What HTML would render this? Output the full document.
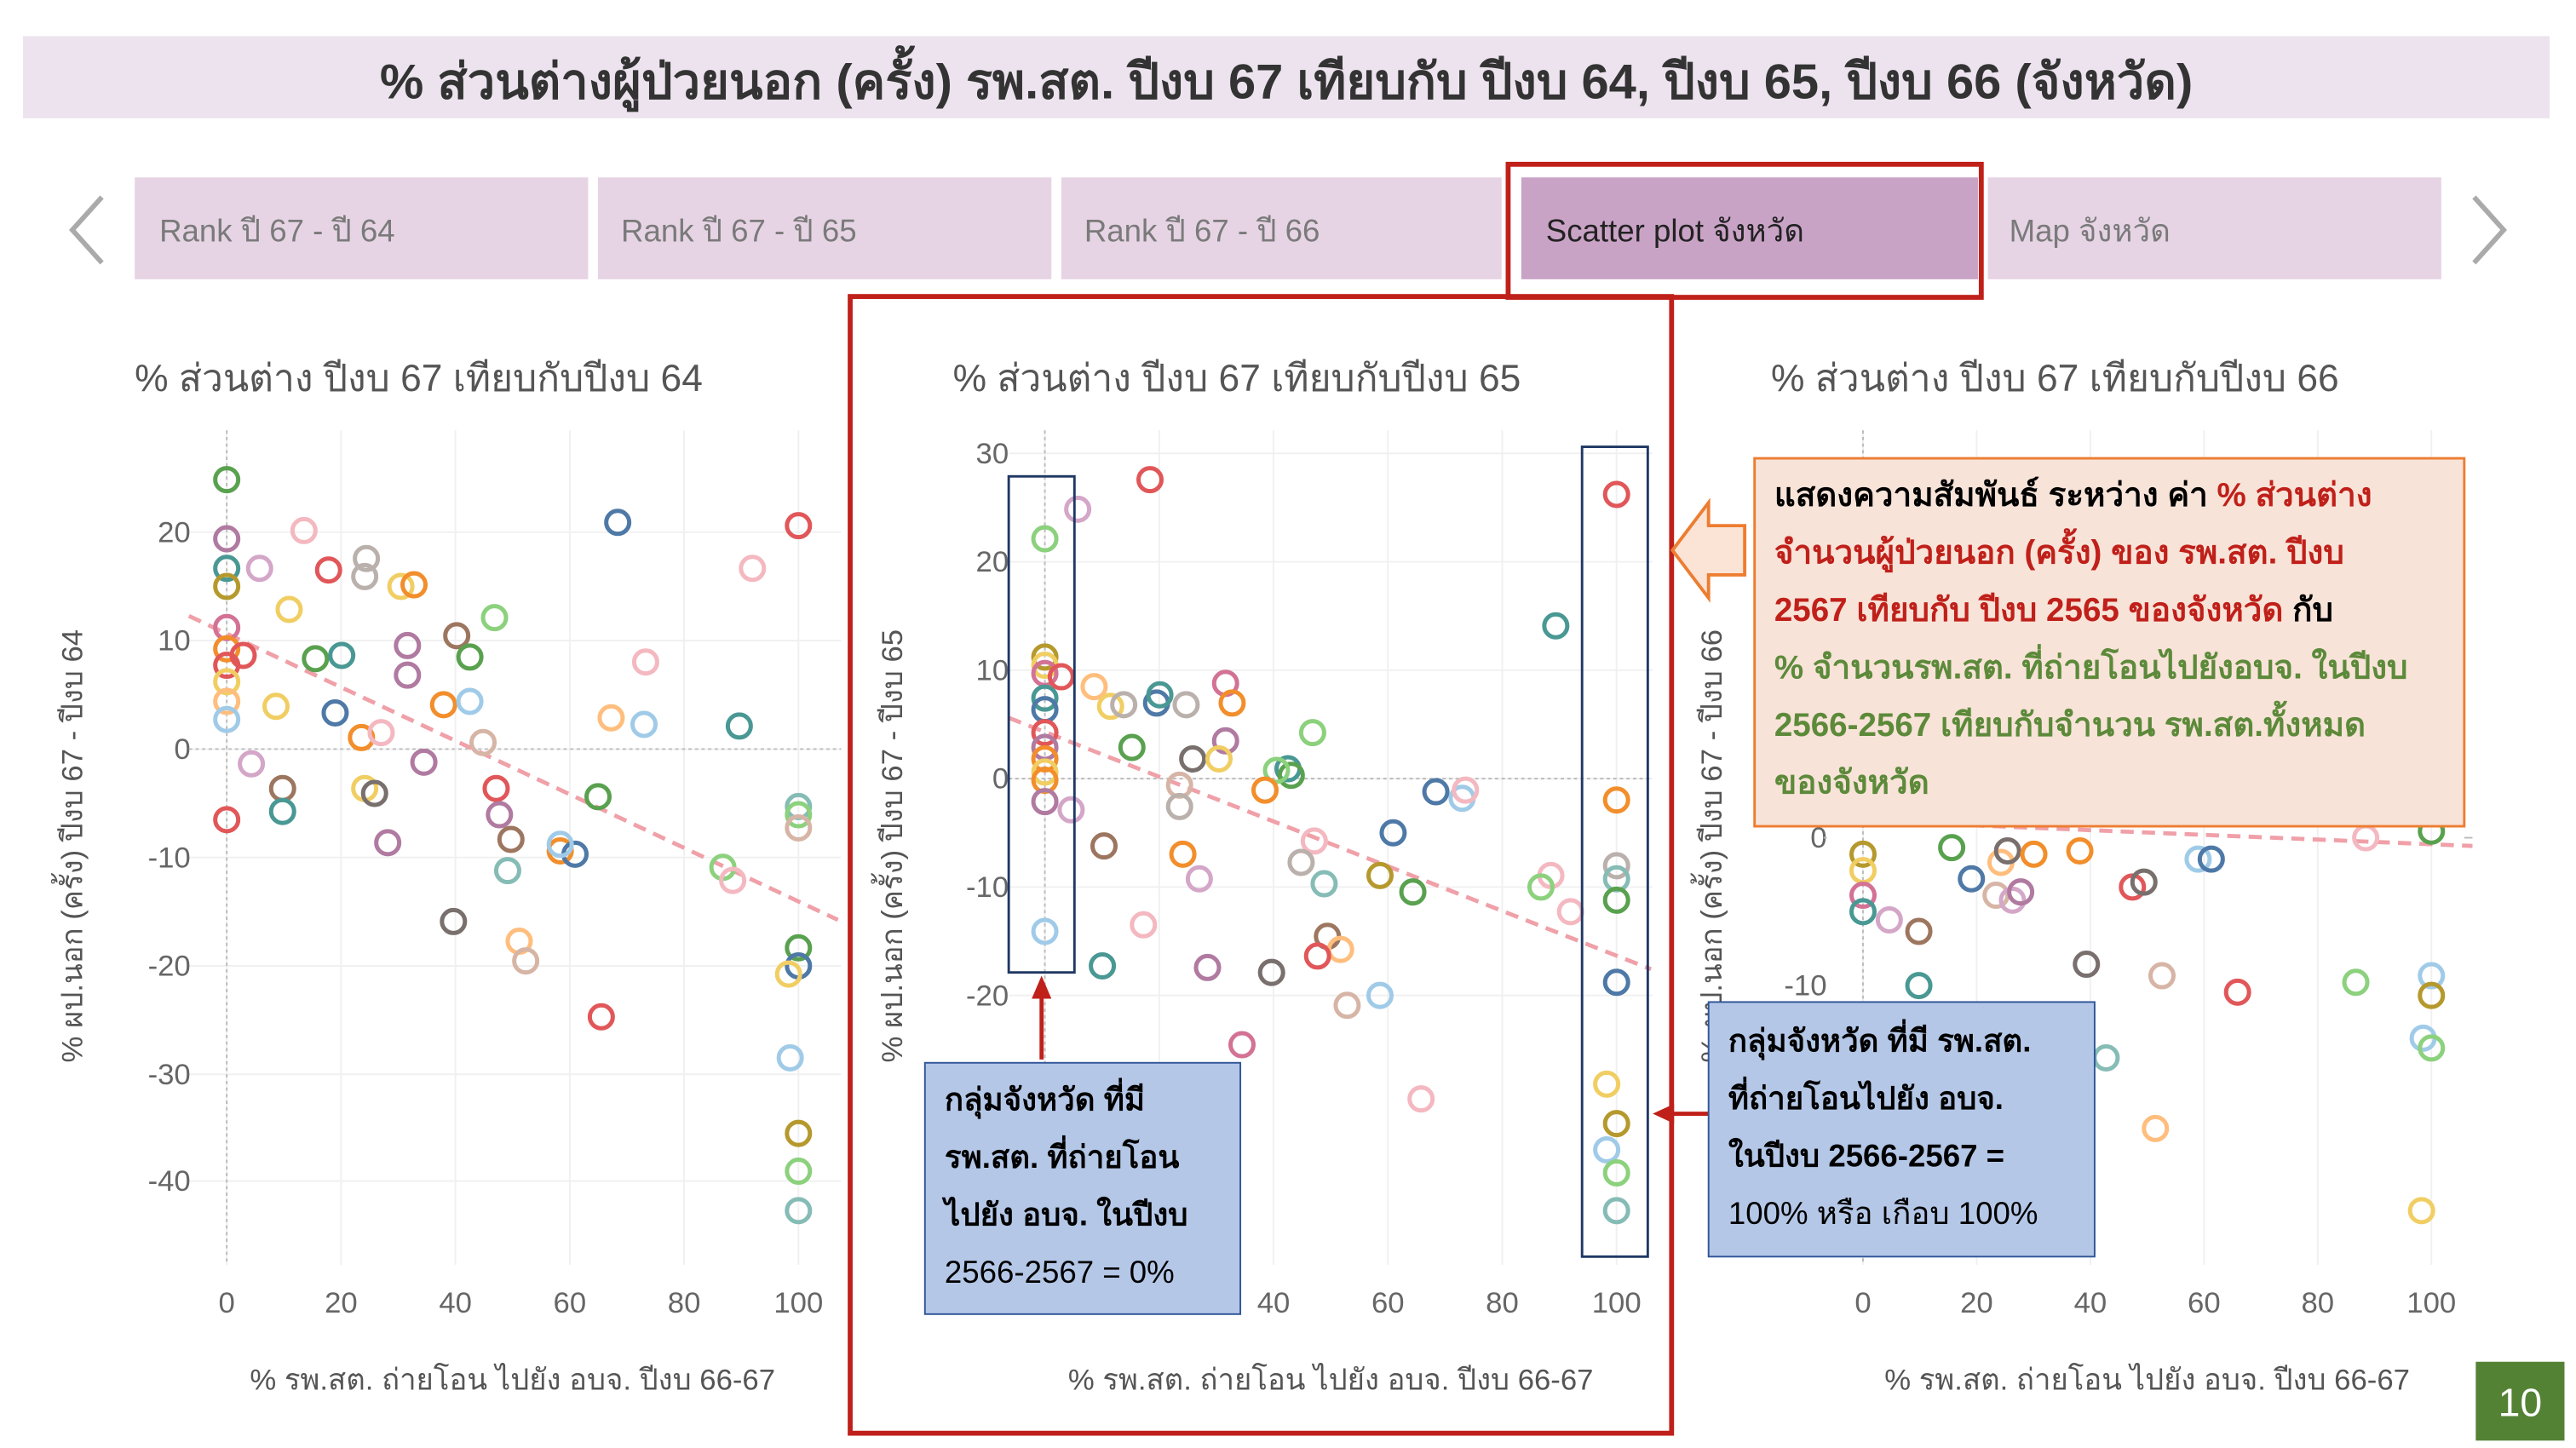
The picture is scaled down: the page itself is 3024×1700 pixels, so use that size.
<!DOCTYPE html>
<html><head><meta charset="utf-8"><style>
html,body{margin:0;padding:0;background:#fff;}
svg{display:block;font-family:"Liberation Sans","DejaVu Sans",sans-serif;}
</style></head><body>
<svg id="s" width="3024" height="1700" viewBox="0 0 1568 881.5" xmlns="http://www.w3.org/2000/svg">
<rect x="0" y="0" width="1568" height="881.5" fill="#fff"/>
<rect x="14" y="22" width="1538" height="50" fill="#ece3ee"/>
<text x="783" y="60" text-anchor="middle" font-size="30" font-weight="bold" fill="#333">% ส่วนต่างผู้ป่วยนอก (ครั้ง) รพ.สต. ปีงบ 67 เทียบกับ ปีงบ 64, ปีงบ 65, ปีงบ 66 (จังหวัด)</text>
<rect x="82" y="108" width="276" height="62" fill="#e6d4e4"/>
<rect x="364" y="108" width="276" height="62" fill="#e6d4e4"/>
<rect x="646" y="108" width="268" height="62" fill="#e6d4e4"/>
<rect x="926" y="108" width="278" height="62" fill="#c9a3c6"/>
<rect x="1210" y="108" width="276" height="62" fill="#e6d4e4"/>
<g font-size="19" fill="#7a7a7a">
<text x="97" y="147">Rank ปี 67 - ปี 64</text>
<text x="378" y="147">Rank ปี 67 - ปี 65</text>
<text x="660" y="147">Rank ปี 67 - ปี 66</text>
<text x="941" y="147" fill="#222">Scatter plot จังหวัด</text>
<text x="1223" y="147">Map จังหวัด</text>
</g>
<polyline points="62,120 44,140 62,160" fill="none" stroke="#aaa" stroke-width="3"/>
<polyline points="1506,120 1524,140 1506,160" fill="none" stroke="#aaa" stroke-width="3"/>
<rect x="918" y="100" width="288" height="81" fill="none" stroke="#c0201a" stroke-width="3"/>
<rect x="517.5" y="180.5" width="500" height="692" fill="none" stroke="#c0201a" stroke-width="3"/>
<g id="charts"></g>
<polygon points="1018,335 1040,306 1040,320 1062,320 1062,350 1040,350 1040,364" fill="#fbe3d6" stroke="#ed7d31" stroke-width="2"/>
<rect x="1068" y="279" width="432" height="224" fill="#f8e3d8" stroke="#ed7d31" stroke-width="1.5"/>
<g font-size="20" font-weight="bold">
<text x="1080" y="308" fill="#000">แสดงความสัมพันธ์ ระหว่าง ค่า <tspan fill="#c0201a">% ส่วนต่าง</tspan></text>
<text x="1080" y="343" fill="#c0201a">จำนวนผู้ป่วยนอก (ครั้ง) ของ รพ.สต. ปีงบ</text>
<text x="1080" y="378" fill="#c0201a">2567 เทียบกับ ปีงบ 2565 ของจังหวัด <tspan fill="#000">กับ</tspan></text>
<text x="1080" y="413" fill="#5c8a3a">% จำนวนรพ.สต. ที่ถ่ายโอนไปยังอบจ. ในปีงบ</text>
<text x="1080" y="448" fill="#5c8a3a">2566-2567 เทียบกับจำนวน รพ.สต.ทั้งหมด</text>
<text x="1080" y="483" fill="#5c8a3a">ของจังหวัด</text>
</g>
<rect x="614" y="290" width="40" height="302" fill="none" stroke="#1f3864" stroke-width="1.5"/>
<rect x="963" y="272" width="40" height="493" fill="none" stroke="#1f3864" stroke-width="1.5"/>
<line x1="634" y1="645" x2="634" y2="604" stroke="#c0201a" stroke-width="2.5"/>
<polygon points="634,594 628,608 640,608" fill="#c0201a"/>
<rect x="563" y="647" width="192" height="153" fill="#b4c7e7" stroke="#2f5597" stroke-width="1"/>
<g font-size="19" fill="#000" font-weight="bold">
<text x="575" y="676">กลุ่มจังหวัด ที่มี</text>
<text x="575" y="711">รพ.สต. ที่ถ่ายโอน</text>
<text x="575" y="746">ไปยัง อบจ. ในปีงบ</text>
<text x="575" y="781" font-weight="normal">2566-2567 = 0%</text>
</g>
<line x1="1040" y1="678" x2="1016" y2="678" stroke="#c0201a" stroke-width="2.5"/>
<polygon points="1006,678 1019,672 1019,684" fill="#c0201a"/>
<rect x="1040" y="610" width="235" height="155" fill="#b4c7e7" stroke="#2f5597" stroke-width="1"/>
<g font-size="19" fill="#000" font-weight="bold">
<text x="1052" y="640">กลุ่มจังหวัด ที่มี รพ.สต.</text>
<text x="1052" y="675">ที่ถ่ายโอนไปยัง อบจ.</text>
<text x="1052" y="710">ในปีงบ 2566-2567 =</text>
<text x="1052" y="745" font-weight="normal">100% หรือ เกือบ 100%</text>
</g>
<rect x="1507" y="829" width="54" height="48" fill="#548235"/>
<text x="1534" y="862" text-anchor="middle" font-size="24" fill="#fff">10</text>
</svg>
<script>
var C={r:'#e15759',pk:'#d37295',lp:'#f4b8c0',pu:'#b07aa1',lpu:'#d4a6c8',te:'#499894',lte:'#86bcb6',bl:'#4e79a7',lb:'#a0cbe8',g:'#59a14f',lg:'#8cd17d',ol:'#b6992d',y:'#f1ce63',o:'#f28e2b',lo:'#ffbe7d',br:'#9d7660',ta:'#d7b5a6',gr:'#bab0ac',dg:'#79706e'};
var ns='http://www.w3.org/2000/svg',G=document.getElementById('charts');
function el(t,a,txt){var e=document.createElementNS(ns,t);for(var k in a)e.setAttribute(k,a[k]);if(txt!==undefined)e.textContent=txt;G.appendChild(e);return e;}
function chart(o){
 el('text',{x:o.tx,y:238,'font-size':23,fill:'#555'},o.title);
 for(var i=0;i<=5;i++){var x=o.x0+i*(o.x1-o.x0)/5;el('line',{x1:x,y1:262,x2:x,y2:770,stroke:'#f0f0f0','stroke-width':1});
  el('text',{x:x,y:799,'text-anchor':'middle','font-size':18,fill:'#666'},i*20);}
 o.yt.forEach(function(t){el('line',{x1:o.px0,y1:t[1],x2:o.px1,y2:t[1],stroke:'#f0f0f0'});
  el('text',{x:o.x0-22,y:t[1]+6,'text-anchor':'end','font-size':18,fill:'#666'},t[0]);});
 el('line',{x1:o.x0,y1:262,x2:o.x0,y2:770,stroke:'#bbb','stroke-dasharray':'2,2'});
 el('line',{x1:o.px0,y1:o.zy,x2:o.px1,y2:o.zy,stroke:'#bbb','stroke-dasharray':'2,2'});
 el('text',{x:o.x0+(o.x1-o.x0)/2,y:846,'text-anchor':'middle','font-size':18,fill:'#555'},'% รพ.สต. ถ่ายโอน ไปยัง อบจ. ปีงบ 66-67');
 el('text',{transform:'translate('+o.yx+',515) rotate(-90)','text-anchor':'middle','font-size':18,fill:'#555'},o.ylab);
 el('line',{x1:o.tl[0],y1:o.tl[1],x2:o.tl[2],y2:o.tl[3],stroke:'#f0a0a8','stroke-width':2.5,'stroke-dasharray':'8,5'});
 o.pts.forEach(function(p){el('circle',{cx:p[0],cy:p[1],r:7,fill:'none',stroke:C[p[2]],'stroke-width':2.6});});
}
chart({title:'% ส่วนต่าง ปีงบ 67 เทียบกับปีงบ 64',tx:82,x0:138,x1:486,px0:115,px1:512,zy:456,yx:50,
 ylab:'% ผป.นอก (ครั้ง) ปีงบ 67 - ปีงบ 64',tl:[115,375,510,560],
 yt:[[20,324],[10,390],[0,456],[-10,522],[-20,588],[-30,654],[-40,719]],
 pts:[[138,292,'g'],[138,328,'pu'],[138,346,'te'],[138,357,'ol'],[138,382,'pk'],[138,395,'o'],[138,405,'r'],[138,415,'y'],[138,427,'lo'],[138,438,'lb'],[138,499,'r'],[185,323,'lp'],[158,346,'lpu'],[176,371,'y'],[148,399,'r'],[192,401,'g'],[208,399,'te'],[200,347,'r'],[223,340,'gr'],[222,351,'gr'],[244,357,'y'],[252,356,'o'],[204,434,'bl'],[168,430,'y'],[153,465,'lpu'],[172,480,'br'],[172,494,'te'],[220,449,'o'],[232,446,'lp'],[248,393,'pu'],[248,411,'pu'],[278,387,'br'],[286,400,'g'],[301,376,'lg'],[270,429,'o'],[286,427,'lb'],[294,452,'ta'],[258,464,'pu'],[222,480,'y'],[228,483,'dg'],[236,513,'pu'],[302,480,'r'],[304,496,'pu'],[311,511,'br'],[309,530,'lte'],[276,561,'dg'],[341,518,'o'],[350,520,'bl'],[341,514,'lb'],[364,485,'g'],[376,318,'bl'],[393,403,'lp'],[392,441,'lb'],[372,437,'lo'],[450,442,'te'],[458,346,'lp'],[486,320,'r'],[486,491,'lte'],[486,496,'lg'],[486,504,'ta'],[440,528,'lg'],[446,536,'lp'],[316,573,'lo'],[320,585,'ta'],[366,619,'r'],[486,577,'g'],[486,588,'bl'],[480,593,'y'],[481,644,'lb'],[486,690,'ol'],[486,713,'lg'],[486,737,'lte']]});
chart({title:'% ส่วนต่าง ปีงบ 67 เทียบกับปีงบ 65',tx:580,x0:636,x1:984,px0:614,px1:1006,zy:474,yx:549,
 ylab:'% ผป.นอก (ครั้ง) ปีงบ 67 - ปีงบ 65',tl:[614,437,1005,590],
 yt:[[30,276],[20,342],[10,408],[0,474],[-10,540],[-20,606]],
 pts:[[636,328,'lg'],[636,400,'ol'],[636,405,'y'],[636,410,'pk'],[636,425,'te'],[636,432,'bl'],[636,446,'r'],[636,455,'pu'],[636,462,'o'],[636,470,'y'],[636,475,'o'],[636,488,'pu'],[636,567,'lb'],[646,412,'r'],[656,310,'lpu'],[652,493,'lpu'],[700,292,'r'],[666,418,'lo'],[676,430,'y'],[684,429,'gr'],[704,428,'bl'],[706,423,'te'],[722,429,'gr'],[746,416,'pk'],[750,428,'o'],[746,451,'pu'],[689,455,'g'],[726,462,'dg'],[742,462,'y'],[718,478,'ta'],[718,491,'gr'],[672,515,'br'],[720,520,'o'],[730,535,'lpu'],[696,563,'lp'],[671,588,'te'],[735,589,'pu'],[774,592,'dg'],[756,636,'pk'],[799,446,'lg'],[784,468,'te'],[786,472,'g'],[777,469,'lg'],[770,481,'o'],[800,512,'lp'],[792,525,'gr'],[806,538,'lte'],[808,570,'br'],[816,578,'lo'],[802,582,'r'],[820,612,'ta'],[840,606,'lb'],[840,533,'ol'],[848,507,'bl'],[860,543,'g'],[874,482,'bl'],[890,486,'lb'],[892,481,'lp'],[865,669,'lp'],[944,533,'lp'],[938,540,'lg'],[947,381,'te'],[956,555,'lp'],[984,301,'r'],[984,487,'o'],[984,527,'gr'],[984,535,'lte'],[984,548,'g'],[984,598,'bl'],[978,660,'y'],[984,684,'ol'],[978,700,'lb'],[984,714,'lg'],[984,737,'lte']]});
chart({title:'% ส่วนต่าง ปีงบ 67 เทียบกับปีงบ 66',tx:1078,x0:1134,x1:1480,px0:1110,px1:1112,zy:510,yx:1048,
 ylab:'% ผป.นอก (ครั้ง) ปีงบ 67 - ปีงบ 66',tl:[1070,497,1505,515],
 yt:[[0,510],[-10,600]],
 pts:[[1134,520,'ol'],[1134,530,'y'],[1134,545,'pk'],[1134,555,'te'],[1150,560,'lpu'],[1168,567,'br'],[1188,516,'g'],[1200,535,'bl'],[1218,525,'lo'],[1222,518,'dg'],[1215,545,'ta'],[1225,548,'lpu'],[1230,543,'pu'],[1238,520,'o'],[1266,518,'o'],[1298,540,'r'],[1305,537,'dg'],[1338,523,'lb'],[1346,523,'bl'],[1270,587,'dg'],[1316,594,'ta'],[1362,604,'r'],[1168,600,'te'],[1282,644,'lte'],[1312,687,'lo'],[1434,598,'lg'],[1480,594,'lb'],[1480,606,'ol'],[1475,632,'lb'],[1480,638,'lg'],[1474,737,'y'],[1440,510,'lp'],[1480,506,'g']]});
(function(){var e=document.createElementNS(ns,'line');e.setAttribute('x1',1500);e.setAttribute('y1',510);e.setAttribute('x2',1505);e.setAttribute('y2',510);e.setAttribute('stroke','#bbb');G.appendChild(e);})();
</script>
</body></html>
